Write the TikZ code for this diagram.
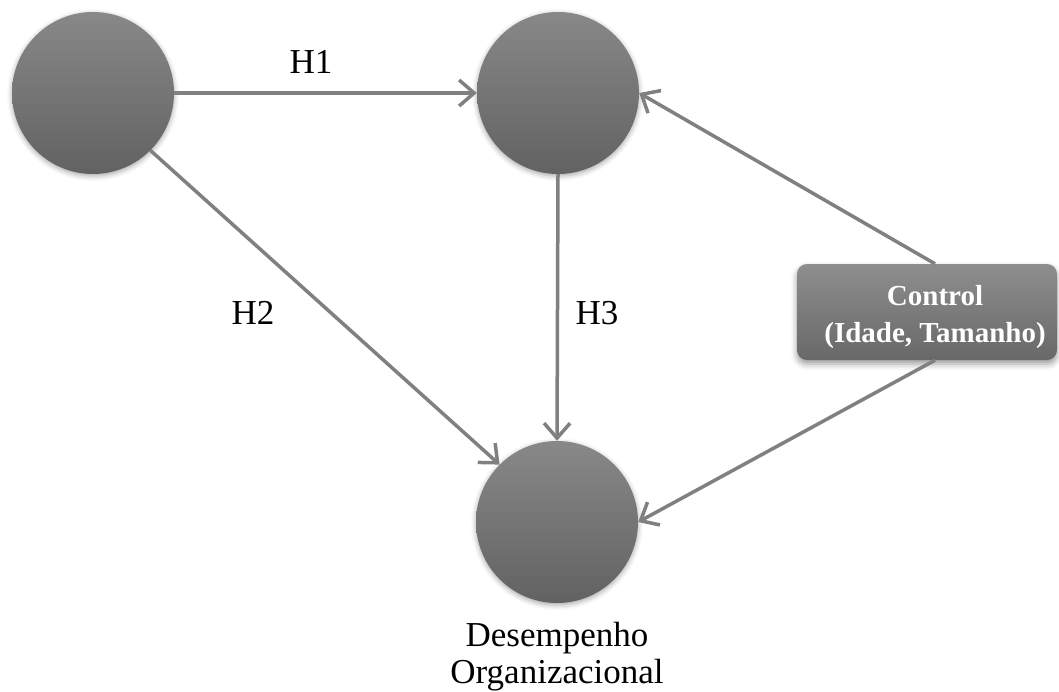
\documentclass[tikz,border=0pt]{standalone}
\usepackage{fontspec}
\setmainfont{Liberation Serif}
\usetikzlibrary{arrows.meta,shadows.blur}
\definecolor{linegray}{RGB}{128,128,128}
\definecolor{circtop}{RGB}{136,136,136}
\definecolor{circbot}{RGB}{98,98,98}
\definecolor{boxtop}{RGB}{142,142,142}
\definecolor{boxbot}{RGB}{104,104,104}
\begin{document}
\begin{tikzpicture}[x=1pt,y=-1pt,
  latent/.style={circle, minimum size=162pt, inner sep=0pt, top color=circtop, bottom color=circbot, draw=none,
    blur shadow={shadow xshift=0pt, shadow yshift=-2pt, shadow blur radius=5pt, shadow opacity=35}},
  ctrlbox/.style={rounded corners=10pt, minimum width=260pt, minimum height=96pt, inner sep=0pt,
    top color=boxtop, bottom color=boxbot, text=white, align=center,
    font=\fontsize{29}{37}\selectfont\bfseries,
    blur shadow={shadow xshift=0pt, shadow yshift=-4pt, shadow blur radius=6pt, shadow opacity=40}},
  conn/.style={draw=linegray, line width=3.5pt, -{Straight Barb[length=15pt,width=26pt]}},
  lbl/.style={font=\fontsize{35}{37}\selectfont, anchor=base, inner sep=0pt}
]
\useasboundingbox (0,0) rectangle (1059,691);
\node[latent] (a) at (93,93) {};
\node[latent] (b) at (558,93) {};
\node[latent] (c) at (557,522) {};
\node[ctrlbox] (k) at (927,312) {\rule{0pt}{30pt}\hspace*{16pt}Control\\\hspace*{16pt}(Idade, Tamanho)};
\draw[conn] (a.east) -- (b.west);
\draw[conn] (a.-45) -- (c.135);
\draw[conn] (b.south) -- (c.north);
\draw[conn] ([xshift=8pt]k.north) -- (b.east);
\draw[conn] ([xshift=8pt]k.south) -- (c.east);
\node[lbl] (h1) at (311,73) {H1};
\node[lbl] (h2) at (253,324) {H2};
\node[lbl] (h3) at (597,324) {H3};
\node[lbl, align=center, anchor=north] (d) at (557,622) {Desempenho\\Organizacional};
\end{tikzpicture}
\end{document}
